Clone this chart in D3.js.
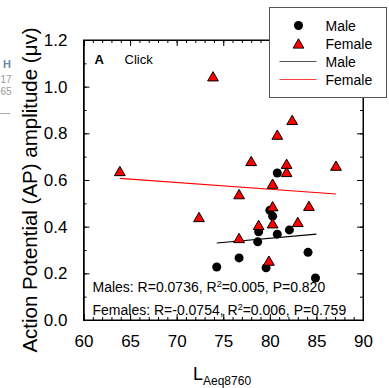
<!DOCTYPE html>
<html>
<head>
<meta charset="utf-8">
<script src="https://cdn.jsdelivr.net/npm/d3@7"></script>
<style>
  body { margin: 0; background: #fff; }
  svg { font-family: Arial, "Liberation Sans", sans-serif; }
</style>
</head>
<body>
<svg width="389" height="388"></svg>
<script>
// male data (L_Aeq8760, AP amplitude)
var maleX = [74.3, 76.7, 79.6, 84.9, 84.1, 78.8, 78.7, 80.8, 82.1, 80.0, 80.3, 80.8];
var maleY = [0.227, 0.266, 0.224, 0.18, 0.29, 0.378, 0.335, 0.368, 0.386, 0.47, 0.445, 0.63];

// female data
var femaleX = [63.9, 72.4, 73.9, 82.4, 80.8, 78.0, 81.8, 81.8, 87.1, 80.3, 76.7, 80.3, 84.2, 78.8, 80.3, 83.0, 76.7, 79.9];
var femaleY = [0.634, 0.437, 1.04, 0.853, 0.79, 0.677, 0.665, 0.63, 0.657, 0.58, 0.535, 0.483, 0.485, 0.403, 0.41, 0.416, 0.347, 0.25];

// regression lines (endpoints)
var maleFitX = [74.3, 85.0];
var maleFitY = [0.33, 0.368];
var femaleFitX = [63.9, 87.1];
var femaleFitY = [0.607, 0.54];

var xTicks = [60, 65, 70, 75, 80, 85, 90];
var yTicks = [0.0, 0.2, 0.4, 0.6, 0.8, 1.0, 1.2];

var svg = d3.select("svg"),
    margin = { top: 40, right: 26, bottom: 68, left: 83.5 },
    width = +svg.attr("width") - margin.left - margin.right,
    height = +svg.attr("height") - margin.top - margin.bottom;

var x = d3.scaleLinear().domain([60, 90]).range([0, width]);
var y = d3.scaleLinear().domain([0, 1.2]).range([height, 0]);

// bits of the neighbouring panel cut off on the left
svg.append("text").attr("x", 11).attr("y", 68).attr("text-anchor", "end")
    .style("font-size", "11px").style("font-weight", "bold").style("fill", "#6c8aa8").text("H");
svg.append("text").attr("x", 11.5).attr("y", 83).attr("text-anchor", "end")
    .style("font-size", "10px").style("fill", "#9a9a9a").text("17");
svg.append("text").attr("x", 11.5).attr("y", 95).attr("text-anchor", "end")
    .style("font-size", "10px").style("fill", "#9a9a9a").text("65");
svg.append("line").attr("x1", 0).attr("x2", 10).attr("y1", 113.5).attr("y2", 113.5)
    .style("stroke", "#aaa").style("stroke-width", 1);

var g = svg.append("g")
    .attr("transform", "translate(" + margin.left + "," + margin.top + ")");

// minor ticks, all pointing in
var xMinor = d3.range(60, 90.01, 1);
var yMinor = d3.range(0, 1.201, 0.1);

function tickAxis(axis, ticks, len) {
    return axis.tickValues(ticks).tickSize(-len).tickFormat("");
}

g.append("g").attr("transform", "translate(0," + height + ")")
    .call(tickAxis(d3.axisBottom(x), xMinor, 3));
g.append("g").call(tickAxis(d3.axisTop(x), xMinor, 3));
g.append("g").call(tickAxis(d3.axisLeft(y), yMinor, 3));
g.append("g").attr("transform", "translate(" + width + ",0)")
    .call(tickAxis(d3.axisRight(y), yMinor, 3));

g.append("g").attr("class", "axis axis--x")
    .attr("transform", "translate(0," + height + ")")
    .call(d3.axisBottom(x).tickValues(xTicks).tickSize(-6).tickPadding(15).tickFormat(d3.format("d")));
g.append("g").call(tickAxis(d3.axisTop(x), xTicks, 6));
g.append("g").attr("class", "axis axis--y")
    .call(d3.axisLeft(y).tickValues(yTicks).tickSize(-6).tickPadding(16).tickFormat(d3.format(".1f")));
g.append("g").attr("transform", "translate(" + width + ",0)")
    .call(tickAxis(d3.axisRight(y), yTicks, 6));

g.selectAll(".domain").style("stroke", "#000");
g.selectAll(".tick line").style("stroke", "#000");
g.selectAll(".tick text").style("font-size", "17px").style("fill", "#000").style("font-family", "Arial, 'Liberation Sans', sans-serif");

// frame
g.append("rect").attr("width", width).attr("height", height)
    .style("fill", "none").style("stroke", "#000").style("stroke-width", 1);

// fit lines
var maleLine = maleFitX.map(function (d, i) { return [d, maleFitY[i]]; });
var femaleLine = femaleFitX.map(function (d, i) { return [d, femaleFitY[i]]; });
var line = d3.line().x(function (d) { return x(d[0]); }).y(function (d) { return y(d[1]); });

g.append("path").datum(femaleLine).attr("d", line)
    .style("fill", "none").style("stroke", "#ff0000").style("stroke-width", 1.2);
g.append("path").datum(maleLine).attr("d", line)
    .style("fill", "none").style("stroke", "#000").style("stroke-width", 1.2);

var tri = d3.symbol().type(d3.symbolTriangle).size(50);

g.selectAll(".male").data(maleX).enter().append("circle")
    .attr("class", "male")
    .attr("cx", function (d) { return x(d); })
    .attr("cy", function (d, i) { return y(maleY[i]); })
    .attr("r", 4.5)
    .style("fill", "#000");

g.selectAll(".female").data(femaleX).enter().append("path")
    .attr("class", "female")
    .attr("d", tri)
    .attr("transform", function (d, i) { return "translate(" + x(d) + "," + (y(femaleY[i]) + 0.5) + ")"; })
    .style("fill", "#ff0000").style("stroke", "#000").style("stroke-width", 1);

// panel labels
g.append("text").attr("x", 11).attr("y", 24).style("font-size", "13px").style("font-weight", "bold").text("A");
g.append("text").attr("x", 41).attr("y", 24).style("font-size", "13px").text("Click");

// stats
var stats = g.append("g").style("font-size", "14px");
var t1 = stats.append("text").attr("x", 9).attr("y", 252);
t1.append("tspan").text("Males: R=0.0736, R");
t1.append("tspan").attr("dy", -5).style("font-size", "9px").text("2");
t1.append("tspan").attr("dy", 5).text("=0.005, P=0.820");
var t2 = stats.append("text").attr("x", 9).attr("y", 275);
t2.append("tspan").text("Females: R=-0.0754, R");
t2.append("tspan").attr("dy", -5).style("font-size", "9px").text("2");
t2.append("tspan").attr("dy", 5).text("=0.006, P=0.759");

// axis titles
var xl = svg.append("text").attr("x", 193).attr("y", 380).style("font-size", "18px");
xl.append("tspan").text("L");
xl.append("tspan").attr("dy", 5).style("font-size", "12px").text("Aeq8760");

svg.append("text")
    .attr("transform", "translate(37,190) rotate(-90)")
    .attr("text-anchor", "middle")
    .style("font-size", "20.5px")
    .text("Action Potential (AP) amplitude (\u03bcv)");

// legend
var lg = svg.append("g").attr("transform", "translate(269.5,7.5)");
lg.append("rect").attr("width", 117).attr("height", 90)
    .style("fill", "#fff").style("stroke", "#555").style("stroke-width", 1);
lg.append("circle").attr("cx", 29).attr("cy", 18).attr("r", 4.5).style("fill", "#000");
lg.append("path").attr("d", tri).attr("transform", "translate(29,37.5)")
    .style("fill", "#ff0000").style("stroke", "#000");
lg.append("line").attr("x1", 10).attr("x2", 47).attr("y1", 54).attr("y2", 54).style("stroke", "#555").style("stroke-width", 1.2);
lg.append("line").attr("x1", 10).attr("x2", 47).attr("y1", 72).attr("y2", 72).style("stroke", "#ff4040").style("stroke-width", 1.2);
var labels = ["Male", "Female", "Male", "Female"];
lg.selectAll(".lt").data(labels).enter().append("text")
    .attr("x", 56)
    .attr("y", function (d, i) { return 23 + i * 18; })
    .style("font-size", "14px")
    .text(function (d) { return d; });
</script>
</body>
</html>
